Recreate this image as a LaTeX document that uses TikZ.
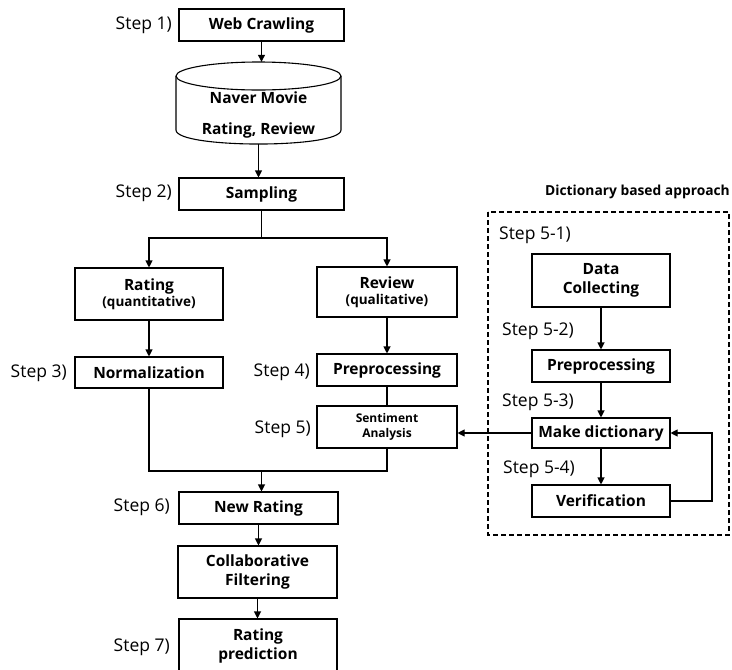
\documentclass[tikz,border=0pt]{standalone}
\usepackage{fontspec}
\setmainfont{Open Sans}
\usetikzlibrary{arrows.meta}
\begin{document}
\begin{tikzpicture}[x=1pt,y=-1pt,
  box/.style={draw,line width=1.1pt,align=center,inner sep=0pt,font=\fontsize{15.5}{19.5}\selectfont\bfseries},
  steplbl/.style={inner sep=0pt,font=\fontsize{17.5}{20}\selectfont},
  conn/.style={line width=1.1pt},
  arr/.style={conn,-{Triangle[length=7pt,width=7pt]}}
]
\useasboundingbox (0,0) rectangle (732,670);
\begin{scope}
\clip (0,0) rectangle (732,670);
% top column
\node[box,minimum width=165,minimum height=32] (web) at (261.5,25) {Web Crawling};
% cylinder
\node[minimum width=165,minimum height=82,inner sep=0pt] (db) at (258.5,103) {};
\draw[line width=1.1pt] (258.5,76) ellipse [x radius=82.5, y radius=14];
\draw[line width=1.1pt] (176,76) -- (176,130) .. controls (176,148.7) and (341,148.7) .. (341,130) -- (341,76);
\node[align=center,inner sep=0pt,font=\fontsize{15.5}{29}\selectfont\bfseries] (dbt) at (258.5,115) {Naver Movie\\[2pt]Rating, Review};
\node[box,minimum width=165,minimum height=32] (samp) at (261.5,194) {Sampling};
\node[box,minimum width=148,minimum height=52] (rat) at (149,294) {Rating\\[-4pt]{\fontsize{13.5}{16}\selectfont\bfseries (quantitative)}};
\node[box,minimum width=140,minimum height=50] (rev) at (387,292) {Review\\[-4pt]{\fontsize{13.5}{16}\selectfont\bfseries (qualitative)}};
\node[box,minimum width=148,minimum height=31] (norm) at (149,372.5) {Normalization};
\node[box,minimum width=140,minimum height=32] (pre) at (387,370) {Preprocessing};
\node[box,minimum width=140,minimum height=42,font=\fontsize{12}{15}\selectfont\bfseries] (sa) at (387,427) {Sentiment\\Analysis};
\node[box,minimum width=159,minimum height=32] (nr) at (258.5,508) {New Rating};
\node[box,minimum width=159,minimum height=52] (cf) at (257.5,572) {Collaborative\\Filtering};
\node[box,minimum width=158,minimum height=54] (rp) at (258,646) {Rating\\prediction};
% right panel
\node[box,minimum width=138,minimum height=53] (dc) at (601,280.5) {Data\\Collecting};
\node[box,minimum width=138,minimum height=32] (pre2) at (601,366) {Preprocessing};
\node[box,minimum width=138,minimum height=30] (md) at (601,433) {Make dictionary};
\node[box,minimum width=138,minimum height=32] (ver) at (601,501) {Verification};
\draw[line width=1.1pt,dash pattern=on 5pt off 3pt] (488,212) rectangle (729,535);
\node[anchor=east,inner sep=0pt,font=\fontsize{13.8}{16}\selectfont\bfseries] (dba) at (730,192) {Dictionary based approach};
% step labels
\node[steplbl,anchor=east] (s1) at (172,25) {Step 1)};
\node[steplbl,anchor=east] (s2) at (172,193) {Step 2)};
\node[steplbl,anchor=east] (s3) at (67,373) {Step 3)};
\node[steplbl,anchor=east] (s4) at (310,372) {Step 4)};
\node[steplbl,anchor=east] (s5) at (311,429) {Step 5)};
\node[steplbl,anchor=east] (s6) at (170,507) {Step 6)};
\node[steplbl,anchor=east] (s7) at (170,647) {Step 7)};
\node[steplbl,anchor=west] (s51) at (499,235) {Step 5-1)};
\node[steplbl,anchor=west] (s52) at (502,331) {Step 5-2)};
\node[steplbl,anchor=west] (s53) at (502,402) {Step 5-3)};
\node[steplbl,anchor=west] (s54) at (503,469) {Step 5-4)};
% connectors
\draw[arr] (web.south) -- (web.south |- db.north);
\draw[arr] (db.south) -- (db.south |- samp.north);
\coordinate (sp) at (261.5,238);
\draw[conn] (samp.south) -- (sp);
\draw[arr] (sp) -| (rat.north);
\draw[arr] (sp) -| (rev.north);
\draw[arr] (rat.south) -- (norm.north);
\draw[arr] (rev.south) -- (pre.north);
\draw[conn] (pre.south) -- (sa.north);
\coordinate (jn) at (261.5,471);
\draw[conn] (norm.south) |- (jn);
\draw[conn] (sa.south) |- (jn);
\draw[arr] (jn) -- (jn |- nr.north);
\draw[arr] (nr.south) -- (nr.south |- cf.north);
\draw[arr] (cf.south) -- (cf.south |- rp.north);
\draw[arr] (dc.south) -- (pre2.north);
\draw[arr] (pre2.south) -- (md.north);
\draw[arr] (md.south) -- (ver.north);
\draw[arr] (md.west) -- (md.west -| sa.east);
\coordinate (fb) at (712,501);
\draw[arr] (ver.east) -- (fb) |- (md.east);
\end{scope}
\end{tikzpicture}
\end{document}
